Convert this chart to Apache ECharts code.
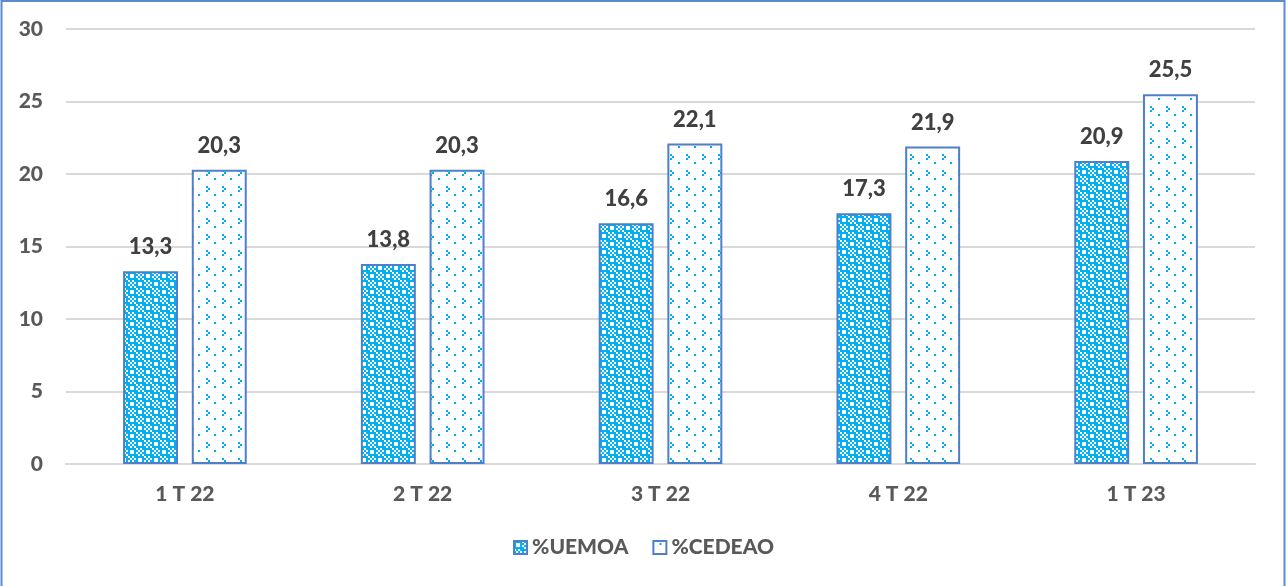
<!DOCTYPE html>
<html>
<head>
<meta charset="utf-8">
<script src="https://cdn.jsdelivr.net/npm/echarts@6/dist/echarts.min.js"></script>
<style>
html,body{margin:0;padding:0;background:#fff;}
#chart{width:1287px;height:586px;}
</style>
</head>
<body>
<div id="chart"></div>
<script>
var categories = ['1 T 22', '2 T 22', '3 T 22', '4 T 22', '1 T 23'];
var uemoaValues = [13.3, 13.8, 16.6, 17.3, 20.9];
var cedeaoValues = [20.3, 20.3, 22.1, 21.9, 25.5];
var seriesNames = ['%UEMOA', '%CEDEAO'];
var yTicks = { min: 0, max: 30, interval: 5 };

var BLUE = '#00B0F0';
function makeTile(bits) {
  var u = 2, c = document.createElement('canvas');
  c.width = 8 * u; c.height = 8 * u;
  var g = c.getContext('2d');
  g.fillStyle = '#ffffff'; g.fillRect(0, 0, c.width, c.height);
  g.fillStyle = BLUE;
  for (var y = 0; y < 8; y++) for (var x = 0; x < 8; x++) {
    if (bits[y].charAt(x) === 'X') g.fillRect(x * u, y * u, u, u);
  }
  return c;
}
var plaid = makeTile([
  'XXXX.X.X',
  'X..XX.X.',
  'X..X.X.X',
  'XXXXX.X.',
  '.X.XXXXX',
  'X.X.X..X',
  '.X.XX..X',
  'X.X.XXXX'
]);
var divot = makeTile([
  '........',
  '...X....',
  '........',
  '........',
  '........',
  '.......X',
  'X.......',
  '.......X'
]);

var FONT = 'Lato';
var chart = echarts.init(document.getElementById('chart'), null, { renderer: 'canvas' });
function lbl(v) { return String(v.value).replace('.', ','); }
chart.setOption({
  animation: false,
  backgroundColor: '#ffffff',
  graphic: [{
    type: 'rect', shape: { x: 1.5, y: 1, width: 1283, height: 600 },
    style: { fill: 'none', stroke: '#5B8CD0', lineWidth: 2 }, silent: true
  }],
  grid: { left: 66, right: 32, top: 29, bottom: 122 },
  legend: {
    data: seriesNames, bottom: 23, left: 'center',
    itemWidth: 13, itemHeight: 13, itemGap: 24, icon: 'rect',
    textStyle: { fontFamily: FONT, fontWeight: 900, fontSize: 21, color: '#595959' }
  },
  xAxis: {
    type: 'category', data: categories,
    axisLine: { lineStyle: { color: '#D9D9D9', width: 2 } },
    axisTick: { show: false },
    axisLabel: { margin: 20, fontFamily: FONT, fontWeight: 900, fontSize: 21, color: '#595959' }
  },
  yAxis: {
    type: 'value', min: yTicks.min, max: yTicks.max, interval: yTicks.interval,
    axisLine: { show: false }, axisTick: { show: false },
    splitLine: { lineStyle: { color: '#D9D9D9', width: 2 } },
    axisLabel: { margin: 23, fontFamily: FONT, fontWeight: 900, fontSize: 21, color: '#595959' }
  },
  series: [{
    name: seriesNames[0], type: 'bar', data: uemoaValues,
    barGap: '25%', barCategoryGap: '48%',
    itemStyle: { color: { image: plaid, repeat: 'repeat' }, borderColor: '#4F7FC8', borderWidth: 2 },
    label: { show: true, position: 'top', distance: 13, formatter: lbl,
      fontFamily: FONT, fontWeight: 900, fontSize: 22, color: '#404040' }
  }, {
    name: seriesNames[1], type: 'bar', data: cedeaoValues,
    itemStyle: { color: { image: divot, repeat: 'repeat' }, borderColor: '#4F7FC8', borderWidth: 2 },
    label: { show: true, position: 'top', distance: 13, formatter: lbl,
      fontFamily: FONT, fontWeight: 900, fontSize: 22, color: '#404040' }
  }]
});
</script>
</body>
</html>
